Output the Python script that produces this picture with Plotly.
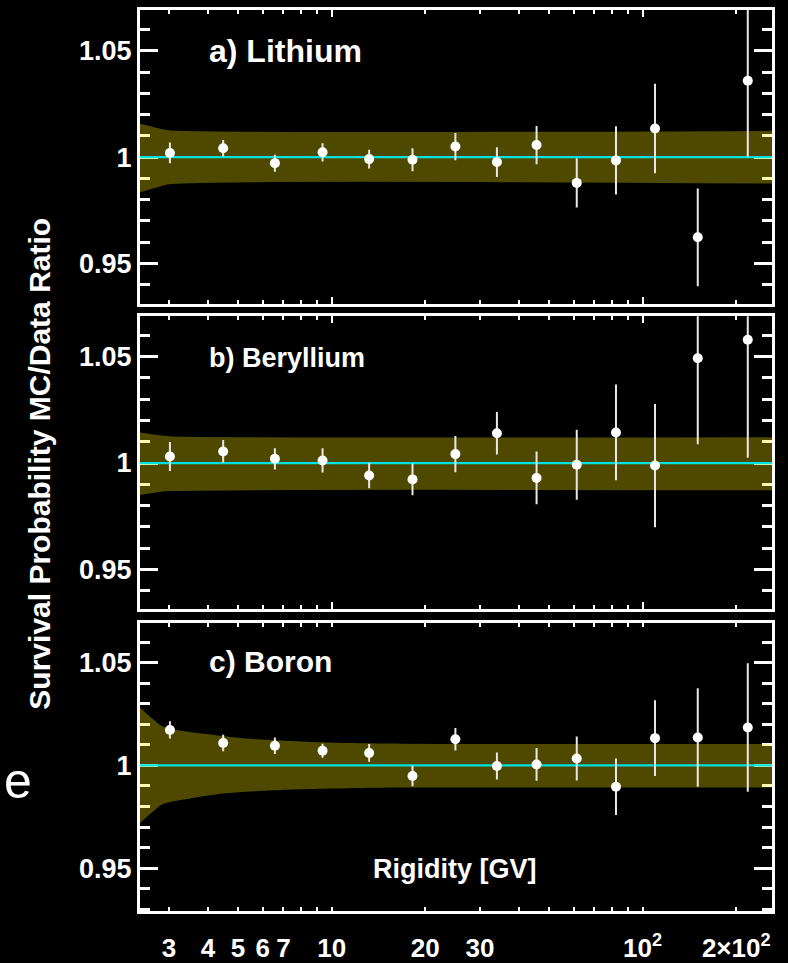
import math
import plotly.graph_objects as go

# ---------------- data ----------------
rigidity = [3.02, 4.48, 6.57, 9.35, 13.2, 18.2, 25.0, 34.0, 45.6, 61.4, 82.1, 109.6, 150.4, 217.8]

li_ratio = [1.002, 1.0042, 0.9972, 1.0023, 0.9991, 0.9988, 1.005, 0.9977, 1.0057, 0.9879, 0.9985, 1.0135, 0.9623, 1.036]
li_err = [0.0049, 0.0039, 0.004, 0.0043, 0.0044, 0.0054, 0.0064, 0.007, 0.009, 0.0116, 0.016, 0.021, 0.023, 0.036]

be_ratio = [1.0031, 1.0054, 1.002, 1.0012, 0.9941, 0.9923, 1.0042, 1.014, 0.993, 0.9992, 1.0144, 0.9988, 1.0493, 1.058]
be_err = [0.0068, 0.0054, 0.005, 0.0057, 0.006, 0.0075, 0.0085, 0.010, 0.0124, 0.0165, 0.0225, 0.029, 0.0405, 0.0555]

b_ratio = [1.0173, 1.0109, 1.0096, 1.0072, 1.0061, 0.9949, 1.0128, 0.9997, 1.0005, 1.0034, 0.9896, 1.0133, 1.0136, 1.0185]
b_err = [0.0042, 0.004, 0.004, 0.0034, 0.0043, 0.005, 0.0055, 0.0066, 0.008, 0.0107, 0.0138, 0.0185, 0.024, 0.0313]

# systematic uncertainty bands (rigidity grid, upper edge, lower edge)
li_band_r = [2.4, 2.7, 3.0, 270]
li_band_hi = [1.0158, 1.0140, 1.0127, 1.0124]
li_band_lo = [0.9833, 0.9855, 0.9873, 0.9876]

be_band_r = [2.4, 2.7, 3.0, 270]
be_band_hi = [1.0145, 1.0134, 1.0126, 1.0121]
be_band_lo = [0.9849, 0.9860, 0.9868, 0.9872]

b_band_r = [2.4, 2.87, 3.42, 4.28, 5.46, 7.91, 11.45, 16.6, 270]
b_band_hi = [1.0288, 1.0189, 1.0165, 1.0146, 1.0130, 1.0117, 1.0109, 1.0106, 1.0104]
b_band_lo = [0.9714, 0.9812, 0.9836, 0.9860, 0.9873, 0.9884, 0.9889, 0.9892, 0.9892]

REFERENCE = 1.0

x_tick_vals = [3, 4, 5, 6, 7, 10, 20, 30, 100, 200]
x_tick_text = ["3", "4", "5", "6", "7", "10", "20", "30", "10<sup>2</sup>", "2\u00d710<sup>2</sup>"]
x_decades = [10, 100]
y_tick_vals = [0.95, 1.0, 1.05]
y_tick_text = ["0.95", "1", "1.05"]

panel_labels = ["a) Lithium", "b) Beryllium", "c) Boron"]

# ---------------- figure ----------------
W, H = 788, 963
FONT = "Liberation Sans"
BAND = "rgba(255,235,0,0.31)"
CYAN = "#00e2e2"

x_range = [math.log10(2.42), math.log10(260.6)]
x_dom = [140 / W, 772 / W]
panels = [
    dict(dom=[1 - 308 / H, 1 - 10 / H], yr=[0.9307, 1.0693],
         ratio=li_ratio, err=li_err, br=li_band_r, bh=li_band_hi, bl=li_band_lo),
    dict(dom=[1 - 615.7 / H, 1 - 320 / H], yr=[0.9315, 1.069],
         ratio=be_ratio, err=be_err, br=be_band_r, bh=be_band_hi, bl=be_band_lo),
    dict(dom=[1 - 921.7 / H, 1 - 630 / H], yr=[0.929, 1.0695],
         ratio=b_ratio, err=b_err, br=b_band_r, bh=b_band_hi, bl=b_band_lo),
]

fig = go.Figure()
layout = dict(
    width=W, height=H,
    margin=dict(l=0, r=0, t=0, b=0),
    paper_bgcolor="black", plot_bgcolor="black",
    showlegend=False,
    font=dict(family=FONT, color="white"),
)

for i, p in enumerate(panels, start=1):
    xa, ya = ("x" if i == 1 else f"x{i}"), ("y" if i == 1 else f"y{i}")
    # band: lower edge, then upper edge filled down to it
    fig.add_trace(go.Scatter(x=p["br"], y=p["bl"], xaxis=xa, yaxis=ya, mode="lines",
                             line=dict(width=0, shape="spline", smoothing=0.6),
                             hoverinfo="skip"))
    fig.add_trace(go.Scatter(x=p["br"], y=p["bh"], xaxis=xa, yaxis=ya, mode="lines",
                             line=dict(width=0, shape="spline", smoothing=0.6),
                             fill="tonexty", fillcolor=BAND, hoverinfo="skip"))
    # unity reference line
    fig.add_trace(go.Scatter(x=[p["br"][0], p["br"][-1]], y=[REFERENCE, REFERENCE],
                             xaxis=xa, yaxis=ya, mode="lines",
                             line=dict(color=CYAN, width=2.2), hoverinfo="skip"))
    # measurements
    fig.add_trace(go.Scatter(x=rigidity, y=p["ratio"], xaxis=xa, yaxis=ya, mode="markers",
                             marker=dict(color="white", size=10),
                             error_y=dict(type="data", array=p["err"], color="#e8e8e8",
                                          thickness=2, width=0)))

    bottom = (i == 3)
    xkey = "xaxis" if i == 1 else f"xaxis{i}"
    ykey = "yaxis" if i == 1 else f"yaxis{i}"
    xax = dict(
        type="log", range=x_range, domain=x_dom, anchor=ya,
        showgrid=False, zeroline=False,
        showline=True, linecolor="white", linewidth=3, mirror="ticks",
        ticks="inside", tickcolor="white", tickwidth=2,
        layer="below traces",
        minor=dict(dtick="D1", ticks="inside", ticklen=4, tickwidth=2, tickcolor="white"),
    )
    if bottom:
        xax.update(tickmode="array", tickvals=x_tick_vals, ticktext=x_tick_text,
                   ticklen=4, showticklabels=True,
                   tickfont=dict(family=FONT, size=26, color="white", weight="bold"),
                   ticklabelstandoff=12)
    else:
        xax.update(tickmode="array", tickvals=x_decades, ticklen=7, showticklabels=False)
    layout[xkey] = xax

    layout[ykey] = dict(
        range=p["yr"], domain=p["dom"], anchor=xa,
        showgrid=False, zeroline=False,
        showline=True, linecolor="white", linewidth=3, mirror="ticks",
        ticks="inside", ticklen=18, tickwidth=3, tickcolor="white",
        tickmode="array", tickvals=y_tick_vals, ticktext=y_tick_text,
        tickfont=dict(family=FONT, size=27, color="white", weight="bold"),
        layer="below traces",
        minor=dict(dtick=0.01, tick0=0.95, ticks="inside", ticklen=10, tickwidth=3,
                   tickcolor="white"),
    )

# longer decade ticks on the labelled bottom axis
layout["xaxis4"] = dict(
    type="log", range=x_range, overlaying="x3", anchor="y3",
    showgrid=False, zeroline=False, showline=False, mirror="ticks",
    tickmode="array", tickvals=x_decades, ticks="inside", ticklen=7, tickwidth=2,
    tickcolor="white", showticklabels=False, layer="below traces",
)

annotations = []
label_specs = [(52, 32), (362, 27), (669, 30)]
for text, (ypx, size) in zip(panel_labels, label_specs):
    annotations.append(dict(
        xref="paper", yref="paper", x=207 / W, y=1 - ypx / H,
        xanchor="left", yanchor="middle", showarrow=False, text=text,
        font=dict(family=FONT, size=size, color="white", weight="bold")))

annotations.append(dict(
    xref="paper", yref="paper", x=40 / W, y=1 - 469 / H, textangle=-90,
    xanchor="center", yanchor="middle", showarrow=False,
    text="Survival Probability MC/Data Ratio",
    font=dict(family=FONT, size=30, color="white", weight="bold")))

annotations.append(dict(
    xref="paper", yref="paper", x=455 / W, y=1 - 879 / H,
    xanchor="center", yanchor="middle", showarrow=False,
    text="Rigidity [GV]",
    font=dict(family=FONT, size=27, color="white", weight="bold")))

annotations.append(dict(
    xref="paper", yref="paper", x=18 / W, y=1 - 790 / H,
    xanchor="center", yanchor="middle", showarrow=False, text="e",
    font=dict(family=FONT, size=50, color="white")))

layout["annotations"] = annotations
fig.update_layout(**layout)
fig.write_html("out.html")
